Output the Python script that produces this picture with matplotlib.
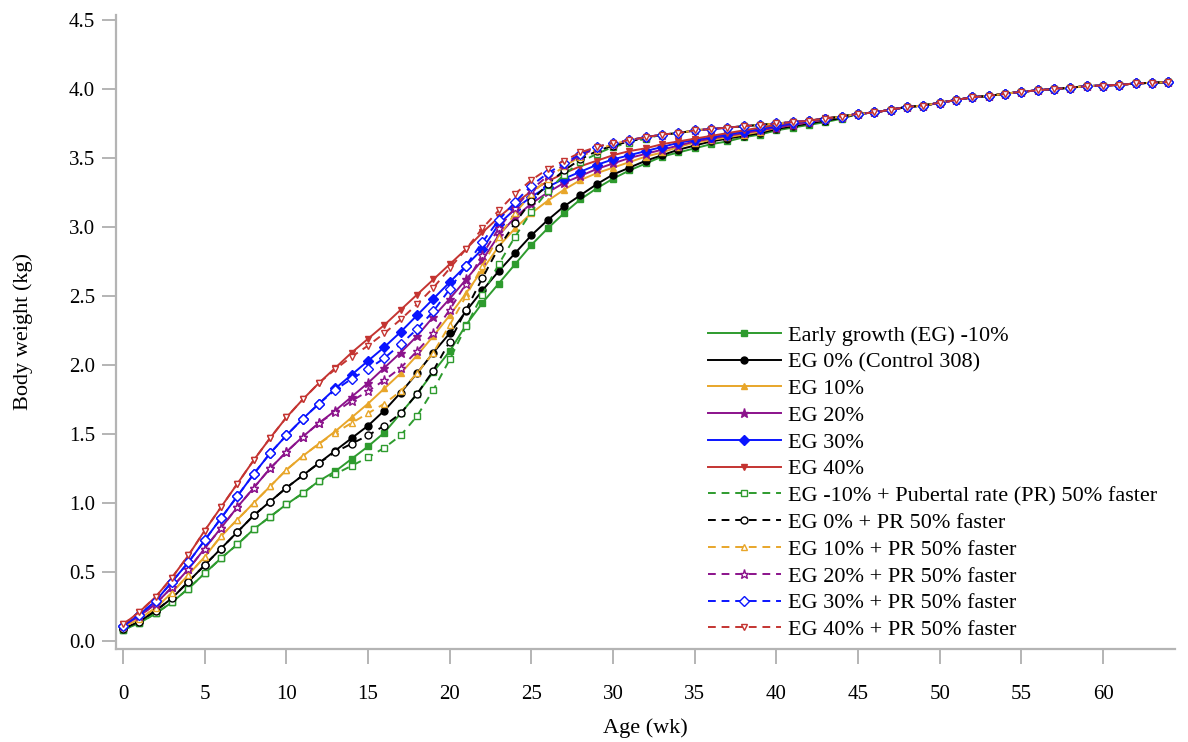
import matplotlib
matplotlib.use("Agg")
import matplotlib.pyplot as plt

plt.rcParams['font.family'] = ['Liberation Serif', 'DejaVu Serif']

weeks = list(range(65))

# shared late values (wk 45-64), all curves meet here
tail = [3.82, 3.83, 3.85, 3.87, 3.88, 3.90, 3.92, 3.94, 3.95, 3.965,
        3.98, 3.99, 4.00, 4.01, 4.02, 4.025, 4.03, 4.04, 4.045, 4.05]

# solid curves, wk 0-44
eg_m10 = [0.08, 0.13, 0.20, 0.28, 0.38, 0.49, 0.60, 0.70, 0.81, 0.90,
          0.99, 1.07, 1.16, 1.23, 1.32, 1.41, 1.51, 1.65, 1.79, 1.95,
          2.10, 2.29, 2.45, 2.59, 2.73, 2.87, 2.99, 3.10, 3.20, 3.28,
          3.35, 3.41, 3.46, 3.51, 3.54, 3.57, 3.60, 3.62, 3.65, 3.67,
          3.70, 3.72, 3.74, 3.76, 3.785]
eg_0 = [0.09, 0.14, 0.22, 0.31, 0.43, 0.55, 0.67, 0.79, 0.91, 1.01,
        1.11, 1.20, 1.29, 1.38, 1.47, 1.56, 1.67, 1.80, 1.94, 2.09,
        2.23, 2.39, 2.54, 2.68, 2.81, 2.94, 3.05, 3.15, 3.23, 3.31,
        3.38, 3.43, 3.48, 3.52, 3.56, 3.59, 3.62, 3.64, 3.66, 3.68,
        3.71, 3.73, 3.75, 3.77, 3.79]
eg_10 = [0.10, 0.16, 0.24, 0.35, 0.48, 0.61, 0.76, 0.88, 1.00, 1.12,
         1.24, 1.34, 1.43, 1.52, 1.62, 1.72, 1.83, 1.94, 2.07, 2.21,
         2.36, 2.52, 2.69, 2.86, 2.99, 3.10, 3.19, 3.27, 3.34, 3.39,
         3.43, 3.47, 3.51, 3.54, 3.58, 3.61, 3.63, 3.65, 3.67, 3.69,
         3.72, 3.74, 3.76, 3.78, 3.80]
eg_20 = [0.11, 0.18, 0.27, 0.39, 0.52, 0.67, 0.82, 0.97, 1.11, 1.25,
         1.37, 1.48, 1.58, 1.67, 1.77, 1.87, 1.98, 2.09, 2.21, 2.35,
         2.48, 2.62, 2.76, 2.94, 3.07, 3.17, 3.25, 3.32, 3.37, 3.42,
         3.46, 3.50, 3.53, 3.56, 3.59, 3.62, 3.64, 3.66, 3.68, 3.70,
         3.72, 3.74, 3.76, 3.78, 3.80]
eg_30 = [0.11, 0.19, 0.29, 0.43, 0.57, 0.73, 0.89, 1.05, 1.21, 1.36,
         1.49, 1.61, 1.72, 1.83, 1.93, 2.03, 2.13, 2.24, 2.36, 2.48,
         2.60, 2.72, 2.84, 3.02, 3.13, 3.22, 3.29, 3.35, 3.40, 3.45,
         3.49, 3.52, 3.55, 3.58, 3.61, 3.63, 3.65, 3.67, 3.69, 3.71,
         3.73, 3.75, 3.77, 3.78, 3.80]
eg_40 = [0.12, 0.21, 0.32, 0.46, 0.62, 0.80, 0.97, 1.14, 1.31, 1.47,
         1.62, 1.75, 1.87, 1.98, 2.09, 2.19, 2.29, 2.40, 2.51, 2.62,
         2.73, 2.84, 2.96, 3.07, 3.17, 3.26, 3.33, 3.39, 3.44, 3.48,
         3.52, 3.55, 3.57, 3.60, 3.62, 3.64, 3.66, 3.68, 3.70, 3.72,
         3.74, 3.76, 3.77, 3.79, 3.80]

# PR 50% faster curves: same as solid up to wk 12, then wk 13-32
pr_m10 = [1.21, 1.27, 1.33, 1.40, 1.49, 1.63, 1.82, 2.04, 2.28, 2.51,
          2.73, 2.93, 3.11, 3.26, 3.38, 3.47, 3.53, 3.58, 3.61, 3.64]
pr_0 = [1.37, 1.43, 1.49, 1.56, 1.65, 1.79, 1.96, 2.17, 2.40, 2.63,
        2.85, 3.03, 3.19, 3.31, 3.41, 3.49, 3.55, 3.59, 3.62, 3.645]
pr_10 = [1.51, 1.58, 1.65, 1.72, 1.81, 1.94, 2.09, 2.29, 2.50, 2.72,
         2.93, 3.10, 3.24, 3.35, 3.44, 3.51, 3.56, 3.60, 3.63, 3.65]
pr_20 = [1.66, 1.74, 1.81, 1.89, 1.98, 2.10, 2.23, 2.40, 2.59, 2.80,
         2.99, 3.14, 3.27, 3.37, 3.45, 3.52, 3.57, 3.60, 3.63, 3.65]
pr_30 = [1.82, 1.90, 1.97, 2.05, 2.15, 2.26, 2.39, 2.55, 2.72, 2.89,
         3.05, 3.18, 3.30, 3.39, 3.46, 3.53, 3.58, 3.61, 3.63, 3.65]
pr_40 = [1.97, 2.06, 2.14, 2.23, 2.33, 2.44, 2.56, 2.70, 2.84, 2.99,
         3.12, 3.24, 3.34, 3.42, 3.48, 3.54, 3.58, 3.61, 3.63, 3.65]
# PR curves wk 33-44
pr_plateau = [3.67, 3.68, 3.70, 3.71, 3.72, 3.73, 3.74, 3.75, 3.76, 3.77,
              3.785, 3.80]

labels = ['Early growth (EG) -10%', 'EG 0% (Control 308)', 'EG 10%', 'EG 20%',
          'EG 30%', 'EG 40%',
          'EG -10% + Pubertal rate (PR) 50% faster', 'EG 0% + PR 50% faster',
          'EG 10% + PR 50% faster', 'EG 20% + PR 50% faster',
          'EG 30% + PR 50% faster', 'EG 40% + PR 50% faster']
colors = ['#2e9b2e', '#000000', '#e8a62a', '#8b128b', '#0a14ff', '#c43431']
markers = ['s', 'o', '^', '*', 'D', 'v']

solid = [eg_m10, eg_0, eg_10, eg_20, eg_30, eg_40]
faster = [pr_m10, pr_0, pr_10, pr_20, pr_30, pr_40]

fig = plt.figure(figsize=(11.88, 7.42), dpi=100)
# axes box: x 116-1175 px, y 15-649 px
ax = fig.add_axes([116 / 1188, 1 - 649 / 742, 1059 / 1188, 634 / 742])

for s, c, m, lab in zip(solid, colors, markers, labels[:6]):
    ax.plot(weeks, s + tail, color=c, marker=m, lw=1.4,
            ms=5 if m != '*' else 6.5, mec=c, mfc=c, label=lab)

for s, f, c, m, lab in zip(solid, faster, colors, markers, labels[6:]):
    y = s[:13] + f + pr_plateau + tail
    ax.plot(weeks, y, color=c, marker=m, lw=1.4, ls=(0, (4, 3)),
            ms=5 if m != '*' else 6.5, mec=c, mfc='white', mew=1.0, label=lab)

ax.set_xlim(-0.43, 64.4)
ax.set_ylim(-0.058, 4.536)
ax.set_xticks(range(0, 61, 5))
ax.set_yticks([i * 0.5 for i in range(10)])
ax.set_yticklabels(['%.1f' % (i * 0.5) for i in range(10)])

for side in ['top', 'right']:
    ax.spines[side].set_visible(False)
for side in ['left', 'bottom']:
    ax.spines[side].set_color('#b4b4b4')
    ax.spines[side].set_linewidth(1.6)
ax.tick_params(colors='#b4b4b4', labelcolor='black', width=1.4, labelsize=15)
ax.tick_params(axis='x', length=11, pad=15)
ax.tick_params(axis='y', length=10, pad=5)

ax.set_xlabel('Age (wk)', fontsize=16, labelpad=10)
ax.set_ylabel('Body weight (kg)', fontsize=16)
ax.yaxis.set_label_coords(-0.078, 0.5)

ax.legend(loc='lower left', bbox_to_anchor=(0.546, -0.007), frameon=False,
          fontsize=16, handlelength=3.3, labelspacing=0.28,
          handletextpad=0.3, borderaxespad=0.2)

fig.savefig('out.png', dpi=100)
